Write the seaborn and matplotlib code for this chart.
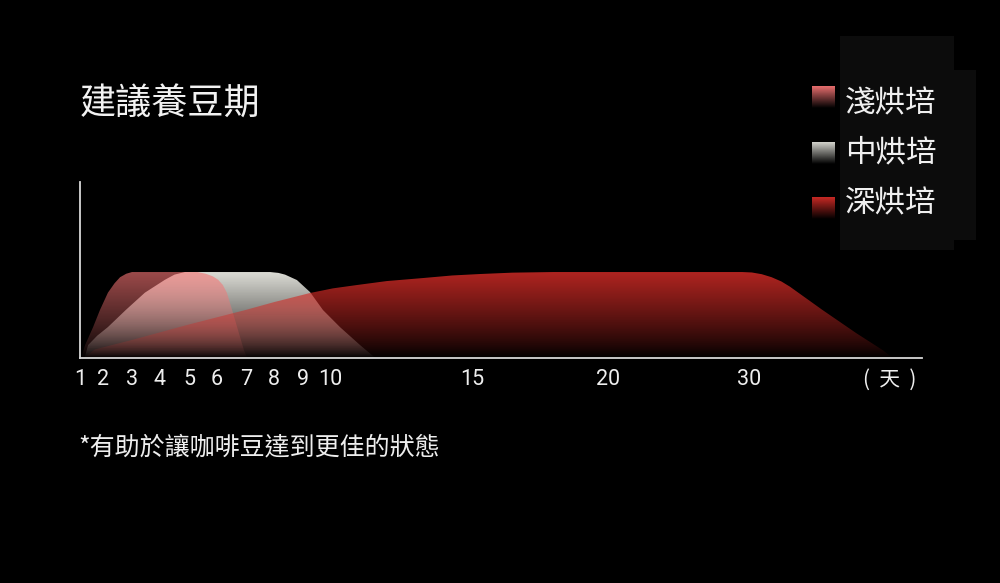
import numpy as np
import pandas as pd
import matplotlib.pyplot as plt
import seaborn as sns
from matplotlib.patches import Rectangle

# 資料
title = "建議養豆期"
note = "*有助於讓咖啡豆達到更佳的狀態"
unit_label = "(  天  )"
roast_names = ["淺烘培", "中烘培", "深烘培"]

tick_days = [1, 2, 3, 4, 5, 6, 7, 8, 9, 10, 15, 20, 30]
tick_labels = [str(d) for d in tick_days]

light_days = [1.05, 1.22, 1.57, 1.87, 2.17, 2.4, 2.59, 2.8, 3.0, 5.3, 5.6, 5.85, 6.04, 6.2, 6.34, 6.52, 6.72, 6.93, 7.05]
light_vals = [0.0, 0.15, 0.36, 0.56, 0.76, 0.87, 0.94, 0.98, 1.0, 1.0, 0.98, 0.95, 0.91, 0.85, 0.76, 0.56, 0.33, 0.09, 0.0]

medium_days = [1.2, 1.35, 1.75, 2.17, 2.79, 3.46, 4.17, 4.5, 4.86, 7.86, 8.15, 8.38, 8.79, 9.26, 9.74, 10.35, 11.06, 11.6]
medium_vals = [0.0, 0.15, 0.26, 0.36, 0.56, 0.76, 0.91, 0.97, 1.0, 1.0, 0.99, 0.97, 0.907, 0.767, 0.558, 0.36, 0.15, 0.0]

dark_days = [1.15, 1.65, 3.0, 5.0, 7.0, 8.0, 9.26, 10.1, 10.95, 12.0, 13.27, 14.3, 15.3, 16.5, 18.0,
             29.5, 30.2, 30.9, 31.6, 32.3, 32.9, 35.2, 37.6, 39.5, 40.2]
dark_vals = [0.0, 0.10, 0.21, 0.39, 0.56, 0.65, 0.756, 0.81, 0.849, 0.895, 0.93, 0.96, 0.977, 0.993, 1.0,
             1.0, 0.995, 0.975, 0.94, 0.89, 0.83, 0.56, 0.29, 0.09, 0.0]

# 版面
tick_pos = [0, 23, 52, 80, 109, 137, 166, 194, 223, 250, 392, 528, 669]
colors = {"淺烘培": (0.957, 0.455, 0.455), "中烘培": (0.87, 0.87, 0.84), "深烘培": (0.82, 0.17, 0.15)}
top_alpha = {"淺烘培": 0.64, "中烘培": 1.0, "深烘培": 0.84}
layer = {"中烘培": 1, "淺烘培": 2, "深烘培": 3}

sns.set_theme(style="dark", rc={"figure.facecolor": "black", "axes.facecolor": "black",
                                "savefig.facecolor": "black"})
plt.rcParams['font.family'] = ['Noto Sans CJK TC', 'DejaVu Sans']


def to_pos(days):
    days = np.asarray(days, dtype=float)
    slope = (tick_pos[-1] - tick_pos[-2]) / (tick_days[-1] - tick_days[-2])
    return np.where(days <= tick_days[-1], np.interp(days, tick_days, tick_pos),
                    tick_pos[-1] + (days - tick_days[-1]) * slope)


def gradient(rgb, a, power=0.85):
    v = np.linspace(0, 1, 256)
    img = np.zeros((256, 1, 4))
    img[:, 0, :3] = rgb
    img[:, 0, 3] = a * np.clip(v, 0, 1) ** power
    return img


df = pd.concat([
    pd.DataFrame({"roast": "淺烘培", "day": light_days, "value": light_vals}),
    pd.DataFrame({"roast": "中烘培", "day": medium_days, "value": medium_vals}),
    pd.DataFrame({"roast": "深烘培", "day": dark_days, "value": dark_vals}),
])
df["pos"] = to_pos(df["day"])

fig = plt.figure(figsize=(10, 5.83), dpi=100)
fig.patches.append(Rectangle((0.84, 0.571), 0.114, 0.367, transform=fig.transFigure,
                             facecolor="#0c0c0c", edgecolor="none", zorder=0))
fig.patches.append(Rectangle((0.954, 0.588), 0.022, 0.292, transform=fig.transFigure,
                             facecolor="#0c0c0c", edgecolor="none", zorder=0))

ax = fig.add_axes([0.08, 0.3859, 0.842, 0.3019])
ax.set_facecolor("none")

for name in ["中烘培", "淺烘培", "深烘培"]:
    sub = df[df["roast"] == name]
    poly = ax.fill_between(sub["pos"], sub["value"], 0, alpha=0, linewidth=0)
    path = poly.get_paths()[0]
    im = ax.imshow(gradient(colors[name], top_alpha[name]), origin="lower", aspect="auto",
                   extent=[sub["pos"].min(), sub["pos"].max(), 0, 1], zorder=layer[name],
                   interpolation="bilinear")
    im.set_clip_path(path, ax.transData)

ax.set_xlim(0, 842)
ax.set_ylim(0, 2.047)
ax.grid(False)
sns.despine(ax=ax)
for s in ["left", "bottom"]:
    ax.spines[s].set_color("#d8d8d8")
    ax.spines[s].set_linewidth(1.3)
    ax.spines[s].set_zorder(5)

ax.set_xticks(tick_pos)
ax.set_xticklabels(tick_labels, family=["Roboto", "DejaVu Sans"])
ax.tick_params(axis="x", direction="in", length=9.5, width=1, color="#d8d8d8",
               labelcolor="#eeeeee", labelsize=15.5, pad=8)
ax.set_yticks([1])
ax.set_yticklabels([])
ax.tick_params(axis="y", direction="in", length=9.5, width=1, color="#d8d8d8")
ax.text(810, -0.122, unit_label, fontsize=15, color="#eeeeee", ha="center", va="center",
        transform=ax.get_xaxis_transform())

fig.text(0.08, 0.821, title, fontsize=26, color="#f2f2f2", ha="left", va="center")
fig.text(0.078, 0.233, note, fontsize=18, color="#eeeeee", ha="left", va="center")

# 圖例
legend_y = [0.8225, 0.7375, 0.651]
square_y = [0.834, 0.738, 0.643]
for name, ty, sy in zip(roast_names, legend_y, square_y):
    lax = fig.add_axes([0.812, sy - 0.019, 0.022, 0.038])
    lax.imshow(gradient(colors[name], 1.0, 1.0), origin="lower", aspect="auto", extent=[0, 1, 0, 1])
    lax.set_axis_off()
    fig.text(0.845, ty, name, fontsize=22, color="#f0f0f0", ha="left", va="center")

fig.savefig("out.png", dpi=100, facecolor="black")
